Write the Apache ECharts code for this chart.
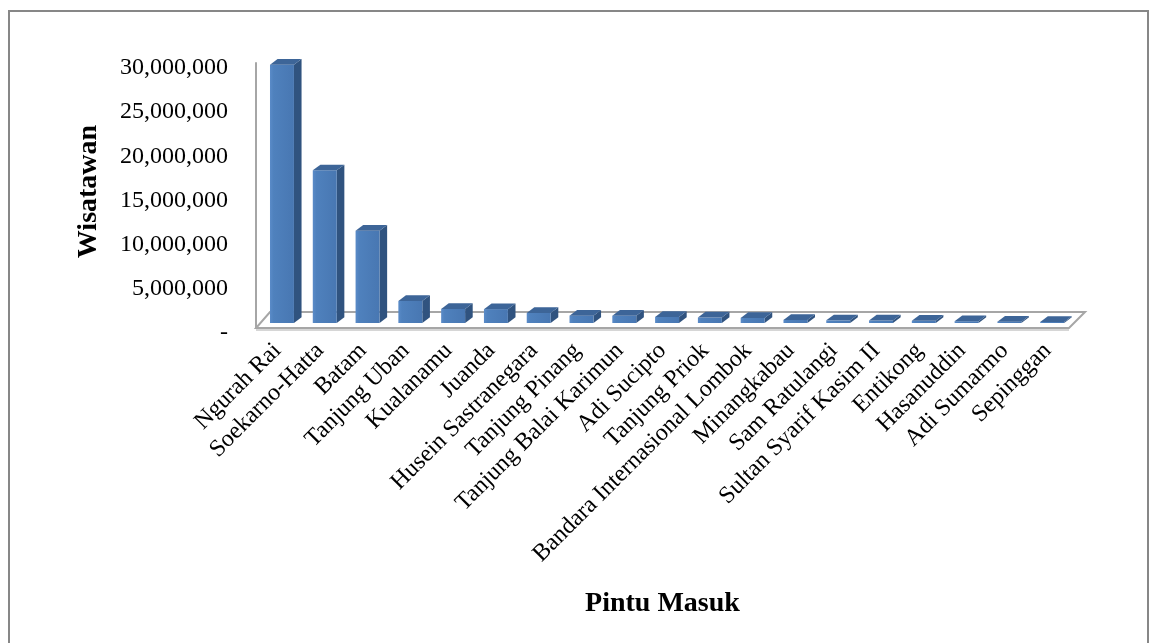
<!DOCTYPE html>
<html>
<head>
<meta charset="utf-8">
<title>Wisatawan per Pintu Masuk</title>
<script src="https://cdn.jsdelivr.net/npm/echarts@6/dist/echarts.min.js"></script>
<style>
  html, body { margin: 0; padding: 0; background: #ffffff; }
  #chart { width: 1150px; height: 643px; }
</style>
</head>
<body>
<div id="chart"></div>
<script>
// Entry points (Pintu Masuk) and visitor counts (Wisatawan)
const categories = [
  'Ngurah Rai', 'Soekarno-Hatta', 'Batam', 'Tanjung Uban', 'Kualanamu',
  'Juanda', 'Husein Sastranegara', 'Tanjung Pinang', 'Tanjung Balai Karimun',
  'Adi Sucipto', 'Tanjung Priok', 'Bandara Internasional Lombok', 'Minangkabau',
  'Sam Ratulangi', 'Sultan Syarif Kasim II', 'Entikong', 'Hasanuddin',
  'Adi Sumarmo', 'Sepinggan'
];
const visitors = [
  29250000, 17280000, 10450000, 2490000, 1590000,
  1570000, 1130000, 830000, 820000,
  680000, 620000, 580000, 350000,
  300000, 280000, 250000, 200000,
  150000, 120000
];
const yMin = 0;
const yMax = 30000000;
const yStep = 5000000;

const SERIF = '"Liberation Serif", "Times New Roman", serif';

function formatTick(v) {
  return '{t|' + (v === 0 ? '-' : v.toLocaleString('en-US')) + '}';
}

// Floor of the 3D plot area
function renderFloor(params, api) {
  const n = categories.length;
  const bw = api.size([1, 0])[0];
  const left = api.coord([0, 0])[0] - bw / 2;
  const right = api.coord([n - 1, 0])[0] + bw / 2;
  const y = api.coord([0, 0])[1];
  const fl = [left, y], fr = [right, y];
  const bl = [left + 14, y - 16], br = [right + 16, y - 16];
  return {
    type: 'group',
    children: [
      {
        type: 'polygon',
        shape: { points: [fl, fr, br, bl] },
        style: { fill: '#ffffff', stroke: '#a6a6a6', lineWidth: 2 }
      },
      {
        type: 'line',
        shape: { x1: left, y1: y + 2, x2: right, y2: y + 2 },
        style: { stroke: '#c8c8c8', lineWidth: 1.5 }
      }
    ]
  };
}

// One 3D column: front face, top cap and right side
function renderBar(params, api) {
  const i = api.value(0);
  const v = api.value(1);
  const base = api.coord([i, 0]);
  const top = api.coord([i, v]);
  const bw = api.size([1, 0])[0];
  const w = bw * 0.56;
  const shiftX = bw * 0.107, shiftY = -5;   // columns sit a little behind the front edge
  const dX = 7.6, dY = -5.7;                // column depth
  const xl = base[0] + shiftX - w / 2;
  const xr = xl + w;
  const yb = base[1] + shiftY;
  const yt = top[1] + shiftY;
  return {
    type: 'group',
    children: [
      {
        type: 'polygon',
        shape: { points: [[xr, yt], [xr + dX, yt + dY], [xr + dX, yb + dY], [xr, yb]] },
        style: { fill: '#30537f' }
      },
      {
        type: 'rect',
        shape: { x: xl, y: yt, width: w, height: yb - yt },
        style: {
          fill: new echarts.graphic.LinearGradient(0, 0, 1, 0, [
            { offset: 0, color: '#5a8bc8' },
            { offset: 0.15, color: '#4f81bd' },
            { offset: 1, color: '#4877b2' }
          ])
        }
      },
      {
        type: 'polygon',
        shape: { points: [[xl, yt], [xr, yt], [xr + dX, yt + dY], [xl + dX, yt + dY]] },
        style: { fill: '#3d6598' }
      }
    ]
  };
}

const chart = echarts.init(document.getElementById('chart'), null, { renderer: 'canvas' });

chart.setOption({
  animation: false,
  backgroundColor: '#ffffff',
  graphic: [
    {
      type: 'rect',
      shape: { x: 9, y: 11, width: 1139, height: 660 },
      style: { fill: 'none', stroke: '#878787', lineWidth: 2 },
      z: -10
    }
  ],
  grid: { left: 256, top: 63, width: 813, height: 265 },
  xAxis: {
    type: 'category',
    data: categories,
    boundaryGap: true,
    name: 'Pintu Masuk',
    nameLocation: 'middle',
    nameGap: 262,
    nameTextStyle: { fontFamily: SERIF, fontSize: 28, fontWeight: 'bold', color: '#000000' },
    axisLine: { show: false },
    axisTick: { show: false },
    axisLabel: {
      interval: 0,
      rotate: 45,
      margin: 19,
      fontFamily: SERIF,
      fontSize: 24,
      color: '#000000'
    }
  },
  yAxis: {
    type: 'value',
    min: yMin,
    max: yMax,
    interval: yStep,
    name: 'Wisatawan',
    nameLocation: 'middle',
    nameGap: 153,
    nameTextStyle: {
      fontFamily: SERIF, fontSize: 28, fontWeight: 'bold', color: '#000000',
      padding: [0, 0, 0, 8]
    },
    axisLine: { show: true, lineStyle: { color: '#a6a6a6', width: 2 } },
    axisTick: { show: false },
    splitLine: { show: false },
    axisLabel: {
      margin: 28,
      formatter: formatTick,
      rich: {
        t: {
          fontFamily: SERIF,
          fontSize: 24,
          color: '#000000',
          padding: [10, 0, 0, 0]
        }
      }
    }
  },
  series: [
    {
      type: 'custom',
      renderItem: renderFloor,
      data: [[0, 0]],
      z: 1,
      silent: true
    },
    {
      type: 'custom',
      renderItem: renderBar,
      data: visitors.map((v, i) => [i, v]),
      encode: { x: 0, y: 1 },
      z: 2
    }
  ]
});
</script>
</body>
</html>
